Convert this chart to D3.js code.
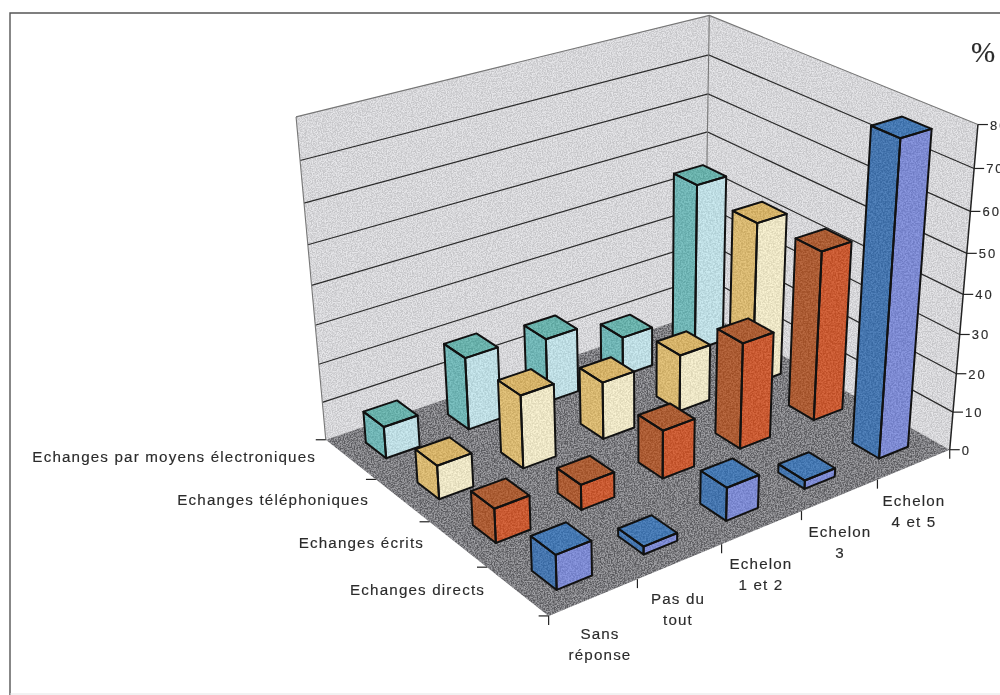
<!DOCTYPE html>
<html><head><meta charset="utf-8">
<script src="https://cdn.jsdelivr.net/npm/d3@7/dist/d3.min.js"></script>
<style>html,body{margin:0;padding:0;background:#fff;overflow:hidden}svg{display:block;filter:blur(.35px)}
text{font-family:"Liberation Sans",Arial,sans-serif;fill:#2b2b2b;stroke:#2b2b2b;stroke-width:.15px}</style></head>
<body><svg id="c" width="1000" height="695"></svg>
<script>
const categories = [["Sans","réponse"],["Pas du","tout"],["Echelon","1 et 2"],["Echelon","3"],["Echelon","4 et 5"]];
const seriesNames = ["Echanges directs","Echanges écrits","Echanges téléphoniques","Echanges par moyens électroniques"];
const direct = [8.7, 2, 8.5, 2.2, 78.5];
const ecrit = [8.7, 6.5, 12.5, 27.5, 44];
const telephone = [8.7, 19, 15, 15, 43];
const electronique = [8.3, 19, 17, 10.5, 45];
const seriesValues = [direct, ecrit, telephone, electronique];
const valueTicks = [0,10,20,30,40,50,60,70,80];
const faceColors = [
  {top:"#3f78b8",left:"#3f74b4",right:"#7d8cdc"},
  {top:"#b05a2c",left:"#b2582c",right:"#d2562a"},
  {top:"#dfb866",left:"#e2bf70",right:"#f9f1cd"},
  {top:"#67b7b0",left:"#6fbcbc",right:"#c6e8ef"}];
const seriesLabelPos = [[316,457],[369,500],[424,543],[485,590]].reverse();
const categoryLabelPos = [[600,634],[678,599],[761,564],[840,532],[914,501]];

// Calibration of the perspective: [u, v, w(0-1), screenX, screenY]
const anchors = [
 [0,0,0,549,616],[1,0,0,950,450],[0,1,0,326,440],[1,1,0,704,312],
 [0,1,1,295,117],[1,1,1,710,15],[1,0,1,977,125],
 [.2,0,0,636,580],[.4,0,0,721,545],[.6,0,0,802,511],[.8,0,0,878,480],
 [0,.25,0,488,567],[0,.5,0,430,521],[0,.75,0,375,479],
 [1,0,.875,975,168],[1,0,.75,970,212],[1,0,.625,967,254],[1,0,.5,963,295],
 [1,0,.375,960,333],[1,0,.25,957,373],[1,0,.125,952,411],
 [0,1,.875,300,160],[0,1,.75,305,203],[0,1,.625,308,245],
 [1,1,.875,708,55],[1,1,.75,708,94],[1,1,.625,708,132]];
function solve(A,b){const n=b.length;A=A.map((r,i)=>[...r,b[i]]);
 for(let i=0;i<n;i++){let p=i;for(let r=i+1;r<n;r++)if(Math.abs(A[r][i])>Math.abs(A[p][i]))p=r;[A[i],A[p]]=[A[p],A[i]];
  for(let r=0;r<n;r++)if(r!==i){const f=A[r][i]/A[i][i];for(let c=i;c<=n;c++)A[r][c]-=f*A[i][c];}}
 return A.map((r,i)=>r[n]/r[i]);}
const rows=[],rhs=[];
anchors.forEach(([u,v,w,x,y])=>{x/=1000;y/=1000;
 rows.push([u,v,w,1,0,0,0,0,-x*u,-x*v,-x*w]);rhs.push(x);
 rows.push([0,0,0,0,u,v,w,1,-y*u,-y*v,-y*w]);rhs.push(y);});
const AtA=d3.range(11).map(i=>d3.range(11).map(j=>d3.sum(rows,r=>r[i]*r[j])));
const Atb=d3.range(11).map(i=>d3.sum(rows,(r,k)=>r[i]*rhs[k]));
const m=solve(AtA,Atb);
const project=(u,v,w)=>{const d=m[8]*u+m[9]*v+m[10]*w+1;
 return [1000*(m[0]*u+m[1]*v+m[2]*w+m[3])/d,1000*(m[4]*u+m[5]*v+m[6]*w+m[7])/d];};

const uScale=d3.scaleBand().domain(d3.range(categories.length)).range([0,1]).paddingInner(.6).paddingOuter(.3);
const vScale=d3.scaleBand().domain(d3.range(seriesNames.length)).range([0,1]).paddingInner(.6).paddingOuter(.3);
const wScale=d3.scaleLinear().domain([0,80]).range([0,1]);
const line=d3.line();
const poly=pts=>line(pts)+"Z";
const svg=d3.select("#c");
const defs=svg.append("defs");
function speck(id,k,alpha,freq){const f=defs.append("filter").attr("id",id).attr("x",0).attr("y",0).attr("width","100%").attr("height","100%").attr("color-interpolation-filters","sRGB");
 f.append("feTurbulence").attr("type","fractalNoise").attr("baseFrequency",freq).attr("numOctaves",2).attr("seed",4).attr("result","n");
 const o=.5-k/2;
 f.append("feColorMatrix").attr("in","n").attr("type","matrix").attr("values",`${k} 0 0 0 ${o} ${k} 0 0 0 ${o} ${k} 0 0 0 ${o} 0 0 0 0 ${alpha}`).attr("result","g");
 f.append("feComposite").attr("in","g").attr("in2","SourceAlpha").attr("operator","in").attr("result","s");
 const mg=f.append("feMerge");mg.append("feMergeNode").attr("in","SourceGraphic");mg.append("feMergeNode").attr("in","s");}
speck("wallN",3,.13,.8);speck("floorN",3,.28,.7);speck("barN",3,.1,.6);

// frame
svg.append("path").attr("d","M10,695V13H1000").attr("fill","none").attr("stroke","#555").attr("stroke-width",1.4);
svg.append("path").attr("d","M10,694H1000").attr("fill","none").attr("stroke","#e4e4e4").attr("stroke-width",1);

// walls
svg.append("path").attr("d",poly([project(0,1,0),project(1,1,0),project(1,1,1),project(0,1,1)])).attr("fill","#e3e3e6").attr("filter","url(#wallN)");
svg.append("path").attr("d",poly([project(1,0,0),project(1,1,0),project(1,1,1),project(1,0,1)])).attr("fill","#e3e3e6").attr("filter","url(#wallN)");
// grid
valueTicks.slice(1).forEach(t=>{const w=wScale(t),top=t===80;
 svg.append("path").attr("d",line([project(0,1,w),project(1,1,w),project(1,0,w)])).attr("fill","none")
  .attr("stroke",top?"#777":"#2a2a2a").attr("stroke-width",top?1.1:1.2);});
[[0,1],[1,1]].forEach(([u,v])=>svg.append("path").attr("d",line([project(u,v,0),project(u,v,1)])).attr("fill","none").attr("stroke","#777").attr("stroke-width",1.1));
// floor
svg.append("path").attr("d",poly([project(0,0,0),project(1,0,0),project(1,1,0),project(0,1,0)])).attr("fill","#7c7c81").attr("filter","url(#floorN)");

// bars, painted from the back corner to the front
d3.range(seriesNames.length).reverse().forEach(s=>{
 d3.range(categories.length).reverse().forEach(c=>{
  const u0=uScale(c),u1=u0+uScale.bandwidth(),v0=vScale(s),v1=v0+vScale.bandwidth(),w=wScale(seriesValues[s][c]),col=faceColors[s];
  const g=svg.append("g");
  const faces=[
   [col.left,[project(u0,v0,0),project(u0,v1,0),project(u0,v1,w),project(u0,v0,w)]],
   [col.right,[project(u0,v0,0),project(u1,v0,0),project(u1,v0,w),project(u0,v0,w)]],
   [col.top,[project(u0,v0,w),project(u1,v0,w),project(u1,v1,w),project(u0,v1,w)]]];
  g.selectAll("path.f").data(faces).join("path").attr("class","f").attr("d",d=>poly(d[1])).attr("fill",d=>d[0]).attr("filter","url(#barN)");
  g.selectAll("path.s").data(faces).join("path").attr("class","s").attr("d",d=>poly(d[1])).attr("fill","none").attr("stroke","#111").attr("stroke-width",2).attr("stroke-linejoin","round");
 });});

// axes
const axisC="#222";
const addLine=(a,b,w=1.2)=>svg.append("path").attr("d",line([a,b])).attr("stroke",axisC).attr("stroke-width",w).attr("fill","none");
addLine(project(1,0,0),project(1,0,1),1.5);
valueTicks.forEach(t=>{const p=project(1,0,wScale(t));
 addLine(p,[p[0]+10,p[1]]);
 svg.append("text").attr("x",p[0]+12).attr("y",p[1]+5).attr("font-size",13).attr("letter-spacing",2).text(t);});
d3.range(0,categories.length+1).forEach(i=>{const p=project(i/categories.length,0,0);addLine(p,[p[0],p[1]+9]);});
d3.range(0,seriesNames.length+1).forEach(i=>{const p=project(0,i/seriesNames.length,0);addLine(p,[p[0]-10,p[1]]);});

const labelSize=15.2,spacing=1.15;
svg.selectAll("text.s").data(seriesNames).join("text").attr("class","s")
 .attr("x",(d,i)=>seriesLabelPos[i][0]).attr("y",(d,i)=>seriesLabelPos[i][1]+5).attr("text-anchor","end")
 .attr("font-size",labelSize).attr("letter-spacing",spacing).text(d=>d);
categories.forEach((lines,i)=>lines.forEach((t,k)=>{
 svg.append("text").attr("x",categoryLabelPos[i][0]).attr("y",categoryLabelPos[i][1]+5+k*21).attr("text-anchor","middle")
  .attr("font-size",labelSize).attr("letter-spacing",spacing).text(t);}));
svg.append("text").attr("x",971).attr("y",62).attr("font-size",29).style("font-family","'Liberation Serif',serif").attr("fill","#222").text("%");
</script></body></html>
